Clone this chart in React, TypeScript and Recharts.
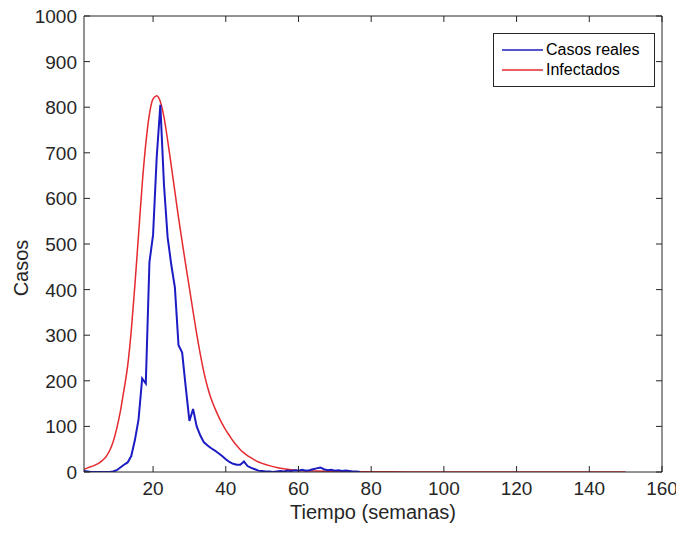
import { LineChart, Line, XAxis, YAxis } from 'recharts'

const casosReales = [
  2, 1, 0, 0, 0, 0, 0, 0, 1, 4,
  10, 16, 21, 35, 70, 115, 205, 194, 460, 520,
  690, 805, 630, 515, 455, 405, 278, 262, 185, 112,
  138, 100, 80, 65, 58, 52, 47, 41, 35, 28,
  22, 18, 16, 16, 23, 13, 9, 6, 3, 2,
  1, 1, 0, 1, 2, 1, 3, 2, 4, 3,
  5, 3, 4, 6, 8, 10, 6, 4, 5, 3,
  4, 2, 3, 2, 1, 1, 0,
]

// modelo: semanas y infectados
const semanasModelo = [
  1, 2, 3, 4, 5, 6, 7, 8, 9, 10,
  11, 12, 13, 14, 15, 16, 17, 18, 19, 20,
  21, 22, 23, 24, 25, 26, 27, 28, 29, 30,
  31, 32, 33, 34, 35, 36, 37, 38, 39, 40,
  41, 42, 43, 44, 45, 46, 47, 48, 49, 50,
  52, 54, 56, 58, 60, 65, 70, 75, 80, 90,
  100, 110, 120, 130, 140, 150,
]
const infectados = [
  6, 9, 12, 15, 19, 25, 33, 46, 66, 95,
  133, 180, 232, 310, 410, 520, 630, 720, 785, 818,
  825, 812, 778, 728, 672, 615, 558, 505, 453, 403,
  352, 303, 258, 218, 186, 160, 140, 122, 106, 92,
  80, 68, 58, 49, 42, 36, 31, 26, 22, 19,
  14, 10, 7, 5, 3.5, 2, 1, 0.6, 0.4, 0.2,
  0.1, 0, 0, 0, 0, 0,
]

const xTicks = [20, 40, 60, 80, 100, 120, 140, 160]
const yTicks = [0, 100, 200, 300, 400, 500, 600, 700, 800, 900, 1000]

const realData = casosReales.map((v, i) => ({ t: i + 1, v }))
const modelData = semanasModelo.map((t, i) => ({ t, v: infectados[i] }))

const AXIS = '#262626'
const BLUE = '#1c1cc4'
const RED = '#e52a2f'
const FONT = '"Liberation Sans", Arial, sans-serif'

const BottomTick = ({ x, y, payload }: any) => (
  <g>
    <line x1={x} x2={x} y1={y} y2={y - 6} stroke={AXIS} />
    <text x={x} y={y + 23} textAnchor="middle" fill={AXIS} fontSize={19} fontFamily={FONT}>
      {payload.value}
    </text>
  </g>
)

const TopTick = ({ x, y }: any) => (
  <line x1={x} x2={x} y1={y} y2={y + 6} stroke={AXIS} />
)

const LeftTick = ({ x, y, payload }: any) => (
  <g>
    <line x1={x} x2={x + 6} y1={y} y2={y} stroke={AXIS} />
    <text x={x - 7} y={y + 7} textAnchor="end" fill={AXIS} fontSize={19} fontFamily={FONT}>
      {payload.value}
    </text>
  </g>
)

const RightTick = ({ x, y }: any) => (
  <line x1={x} x2={x - 6} y1={y} y2={y} stroke={AXIS} />
)

const legendItems = [
  { name: 'Casos reales', color: BLUE },
  { name: 'Infectados', color: RED },
]

export default function App() {
  return (
    <div style={{ position: 'absolute', left: 0, top: 0, width: 676, height: 533, background: '#fff' }}>
      <LineChart width={676} height={533} margin={{ top: 15, right: 13, bottom: 0, left: 0 }}>
        <XAxis
          dataKey="t"
          type="number"
          domain={[1, 160]}
          ticks={xTicks}
          allowDataOverflow
          height={61}
          tickSize={0}
          tickMargin={0}
          tick={<BottomTick />}
          axisLine={{ stroke: AXIS }}
          label={{ value: 'Tiempo (semanas)', position: 'insideBottom', offset: 14, fill: AXIS, fontSize: 20, fontFamily: FONT }}
        />
        <XAxis
          xAxisId="top"
          orientation="top"
          dataKey="t"
          type="number"
          domain={[1, 160]}
          ticks={xTicks}
          allowDataOverflow
          height={1}
          tickSize={0}
          tickMargin={0}
          tick={<TopTick />}
          axisLine={{ stroke: AXIS }}
        />
        <YAxis
          type="number"
          domain={[0, 1000]}
          ticks={yTicks}
          allowDataOverflow
          width={84}
          tickSize={0}
          tickMargin={0}
          tick={<LeftTick />}
          axisLine={{ stroke: AXIS }}
          label={{ value: 'Casos', angle: -90, position: 'insideLeft', offset: 21, dx: 0, dy: 24, fill: AXIS, fontSize: 20, fontFamily: FONT, style: { textAnchor: 'middle' } }}
        />
        <YAxis
          yAxisId="right"
          orientation="right"
          type="number"
          domain={[0, 1000]}
          ticks={yTicks}
          allowDataOverflow
          width={1}
          tickSize={0}
          tickMargin={0}
          tick={<RightTick />}
          axisLine={{ stroke: AXIS }}
        />
        {/* serie invisible para activar los ejes superior y derecho */}
        <Line
          data={modelData}
          dataKey="v"
          xAxisId="top"
          yAxisId="right"
          stroke="none"
          dot={false}
          legendType="none"
          isAnimationActive={false}
        />
        <Line
          data={modelData}
          dataKey="v"
          name="Infectados"
          type="monotone"
          stroke={RED}
          strokeWidth={1.5}
          dot={false}
          isAnimationActive={false}
        />
        <Line
          data={realData}
          dataKey="v"
          name="Casos reales"
          type="linear"
          stroke={BLUE}
          strokeWidth={2}
          dot={false}
          isAnimationActive={false}
        />
      </LineChart>
      <div
        style={{
          position: 'absolute',
          left: 493,
          top: 33,
          width: 152,
          border: `1px solid ${AXIS}`,
          background: '#fff',
          fontFamily: FONT,
          fontSize: 16,
          color: '#000',
          padding: '6px 0 6px 8px',
          lineHeight: '20px',
        }}
      >
        {legendItems.map(item => (
          <div key={item.name} style={{ display: 'flex', alignItems: 'center' }}>
            <svg width={42} height={20} style={{ marginRight: 2 }}>
              <line x1={0} x2={41} y1={10} y2={10} stroke={item.color} strokeWidth={1.5} />
            </svg>
            {item.name}
          </div>
        ))}
      </div>
    </div>
  )
}
